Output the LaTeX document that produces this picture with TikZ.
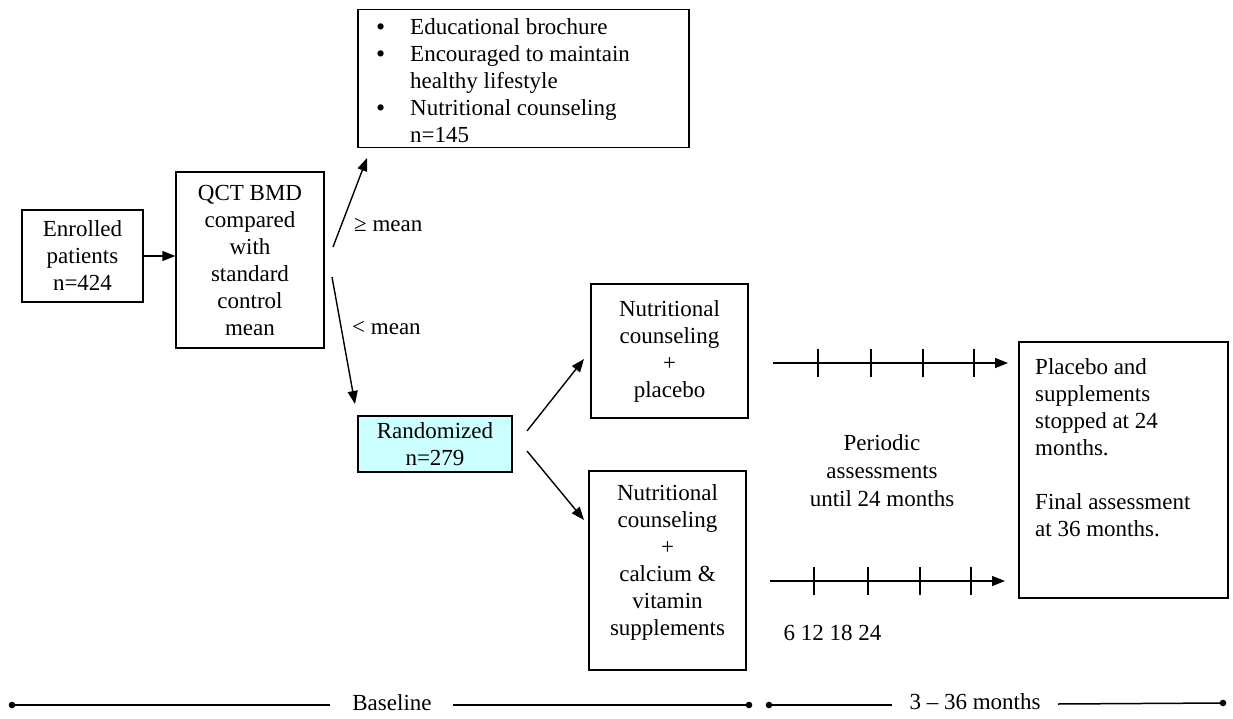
\documentclass[tikz,border=0pt]{standalone}
\usepackage{fontspec}
\setmainfont{Liberation Serif}
\usetikzlibrary{arrows.meta,calc}
\definecolor{randfill}{HTML}{CCFFFF}
\newcommand{\bigbul}{\raisebox{-1pt}{\fontsize{26}{26}\selectfont\textbullet}}
\begin{document}
\begin{tikzpicture}[x=1pt,y=-1pt,
  font=\fontsize{23}{27}\selectfont,
  box/.style={draw, line width=1.3pt, align=center, inner sep=0pt},
  arr/.style={line width=1.4pt, -{Triangle[length=13pt,width=10pt]}},
  tickline/.style={line width=1.3pt},
  baseline rule/.style={line width=1.5pt}]
\useasboundingbox (0,0) rectangle (1233,719);

% boxes
\node[box, minimum width=121, minimum height=92] (enr) at (82.5,256) {Enrolled\\patients\\n=424};
\node[box, minimum width=148, minimum height=176] (qct) at (250,260) {QCT BMD\\compared\\with\\standard\\control\\mean};
\node[box, minimum width=331, minimum height=138] (edu) at (523.5,78.5) {};
\node[anchor=north west, inner sep=0pt] (edutxt) at (376,15) {%
  \begin{tabular}{@{}p{34pt}@{}l@{}}
  \bigbul & Educational brochure\\
  \bigbul & Encouraged to maintain\\
          & healthy lifestyle\\
  \bigbul & Nutritional counseling\\
          & n=145
  \end{tabular}};
\node[box, fill=randfill, minimum width=154, minimum height=56] (rand) at (435,444) {Randomized\\n=279};
\node[box, minimum width=157, minimum height=134] (plac) at (669.5,351) {Nutritional\\counseling\\+\\placebo};
\node[box, minimum width=157, minimum height=199] (supp) at (667.5,570.5) {Nutritional\\counseling\\+\\calcium \&\\vitamin\\supplements\\[-6pt]\mbox{}};
\node[box, minimum width=209, minimum height=256] (fin) at (1123.5,470) {};
\node[anchor=north west, align=left, inner sep=0pt] (fintxt) at (1035,358) {Placebo and\\supplements\\stopped at 24\\months.\\[27pt]Final assessment\\at 36 months.};

% labels
\node[anchor=west, inner sep=0pt] (ge) at (354,225) {≥ mean};
\node[anchor=west, inner sep=0pt] (lt) at (352,328) {< mean};
\node[align=center, font=\fontsize{23}{28}\selectfont] (per) at (882,471) {Periodic\\assessments\\until 24 months};
\node (months) at (832.5,633) {6 12 18 24};

% connectors
\coordinate (q1) at (333,247);
\coordinate (e1) at (367,158);
\coordinate (q2) at (332,277);
\coordinate (r2) at (355,404);
\coordinate (r3) at (527,431);
\coordinate (p3) at (584,359);
\coordinate (r4) at (527,451);
\coordinate (s4) at (584,520);
\draw[arr] (enr.east) -- (qct.west |- enr.east);
\draw[arr] (q1) -- (e1);
\draw[arr] (q2) -- (r2);
\draw[arr] (r3) -- (p3);
\draw[arr] (r4) -- (s4);

% timelines
\coordinate (t1a) at (773,363);
\coordinate (t1b) at (1008,363);
\draw[arr] (t1a) -- (t1b);
\foreach \x in {818,871,923,974} \draw[tickline] (\x,349) -- (\x,377);
\coordinate (t2a) at (770,581);
\coordinate (t2b) at (1005,581);
\draw[arr] (t2a) -- (t2b);
\foreach \x in {814,868,920,971} \draw[tickline] (\x,567) -- (\x,595);

% bottom scale
\coordinate (b1) at (12,705);
\coordinate (b2) at (330,705);
\coordinate (b3) at (453,705);
\coordinate (b4) at (749,705);
\node (basel) at (392,703) {Baseline};
\draw[baseline rule] (b1) -- (b2);
\draw[baseline rule] (b3) -- (b4);
\fill (b1) circle (3.3);
\fill (b4) circle (3.3);
\coordinate (c1) at (769,705);
\coordinate (c2) at (892,705);
\coordinate (c3) at (1058,704);
\coordinate (c4) at (1223,703);
\node (follow) at (975,702) {3 – 36 months};
\draw[baseline rule] (c1) -- (c2);
\draw[baseline rule] (c3) -- (c4);
\fill (c1) circle (3.3);
\fill (c4) circle (3.3);
\end{tikzpicture}
\end{document}
